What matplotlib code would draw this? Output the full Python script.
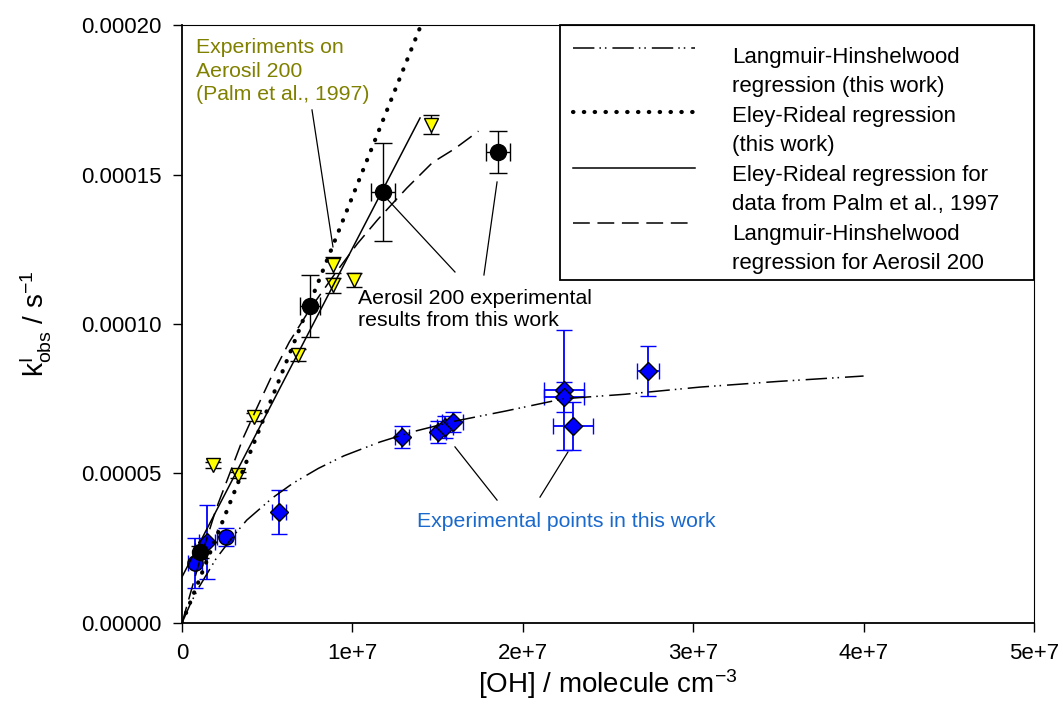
import matplotlib
matplotlib.use('Agg')
from matplotlib import pyplot as plt
from matplotlib.ticker import FormatStrFormatter

plt.rcParams['font.family'] = ['Liberation Sans', 'DejaVu Sans']
plt.rcParams['mathtext.default'] = 'regular'

# Aerosil 200, Palm et al. 1997 (yellow triangles)
palm_x = [0.182e7, 0.329e7, 0.423e7, 0.681e7, 0.886e7, 0.886e7, 1.009e7, 1.461e7]
palm_y = [0.528e-4, 0.495e-4, 0.689e-4, 0.896e-4, 1.197e-4, 1.130e-4, 1.147e-4, 1.666e-4]
palm_yerr = [0.010e-4, 0.010e-4, 0.015e-4, 0.020e-4, 0.027e-4, 0.025e-4, 0.023e-4, 0.032e-4]

# Aerosil 200, this work (black circles)
aer_x = [0.106e7, 0.751e7, 1.180e7, 1.854e7]
aer_y = [0.237e-4, 1.060e-4, 1.441e-4, 1.575e-4]
aer_xerr = [0.030e7, 0.059e7, 0.073e7, 0.070e7]
aer_yerr = [0.020e-4, 0.104e-4, 0.164e-4, 0.069e-4]

# experimental points this work (blue diamonds)
dia_x = [0.147e7, 0.569e7, 1.291e7, 1.502e7, 1.543e7, 1.590e7, 2.242e7, 2.242e7, 2.295e7, 2.735e7]
dia_y = [0.271e-4, 0.371e-4, 0.622e-4, 0.639e-4, 0.656e-4, 0.672e-4, 0.779e-4, 0.756e-4, 0.659e-4, 0.843e-4]
dia_xerr = [0.047e7, 0.041e7, 0.041e7, 0.047e7, 0.047e7, 0.062e7, 0.117e7, 0.117e7, 0.117e7, 0.065e7]
dia_yerr = [0.124e-4, 0.074e-4, 0.037e-4, 0.037e-4, 0.037e-4, 0.033e-4, 0.200e-4, 0.050e-4, 0.080e-4, 0.085e-4]

# experimental points this work (blue circles)
circ_x = [0.076e7, 0.258e7]
circ_y = [0.201e-4, 0.288e-4]
circ_xerr = [0.040e7, 0.053e7]
circ_yerr = [0.084e-4, 0.030e-4]

# regression curves
lh_x = [0, 0.05e7, 0.1e7, 0.2e7, 0.3e7, 0.38e7, 0.53e7, 0.65e7, 0.8e7, 0.95e7, 1.16e7, 1.35e7,
        1.6e7, 1.9e7, 2.24e7, 2.6e7, 3.04e7, 3.5e7, 4.0e7]
lh_y = [0, 0.065e-4, 0.12e-4, 0.215e-4, 0.29e-4, 0.344e-4, 0.418e-4, 0.467e-4, 0.517e-4, 0.559e-4,
        0.605e-4, 0.639e-4, 0.675e-4, 0.709e-4, 0.75e-4, 0.765e-4, 0.789e-4, 0.808e-4, 0.826e-4]
er_x = [0, 1.403e7]
er_y = [0, 2.0e-4]
palm_er_x = [0, 1.397e7]
palm_er_y = [0.154e-4, 1.689e-4]
lha_x = [0, 0.1e7, 0.2e7, 0.28e7, 0.36e7, 0.44e7, 0.53e7, 0.63e7, 0.75e7, 0.9e7, 1.03e7, 1.15e7,
         1.32e7, 1.47e7, 1.6e7, 1.74e7]
lha_y = [0, 0.2e-4, 0.381e-4, 0.50e-4, 0.62e-4, 0.72e-4, 0.83e-4, 0.94e-4, 1.049e-4, 1.17e-4,
         1.269e-4, 1.35e-4, 1.455e-4, 1.54e-4, 1.586e-4, 1.645e-4]

xticks = [0, 1e7, 2e7, 3e7, 4e7, 5e7]
xtick_labels = ['0', '1e+7', '2e+7', '3e+7', '4e+7', '5e+7']
yticks = [0, 0.5e-4, 1.0e-4, 1.5e-4, 2.0e-4]

legend_labels = ['Langmuir-Hinshelwood\nregression (this work)',
                 'Eley-Rideal regression\n(this work)',
                 'Eley-Rideal regression for\ndata from Palm et al., 1997',
                 'Langmuir-Hinshelwood\nregression for Aerosil 200']

LH_STYLE = (0, (14, 3.3, 1, 2.6, 1, 3.9))
DOT_STYLE = (0, (0.1, 2.5))
DASH_STYLE = (0, (11, 5))

fig = plt.figure(figsize=(10.63, 7.25), dpi=100)
ax = fig.add_axes([0.1712, 0.1407, 0.8015, 0.8248])

# data points
ax.errorbar(palm_x, palm_y, yerr=palm_yerr, fmt='v', ms=10.5, mfc='#ffff00', mec='black',
            mew=1.0, ecolor='black', elinewidth=1.0, capsize=6, capthick=1.0, zorder=3)
ax.errorbar(circ_x, circ_y, xerr=circ_xerr, yerr=circ_yerr, fmt='o', ms=11, mfc='#0000ff',
            mec='black', mew=1.0, ecolor='#0000ff', elinewidth=1.3, capsize=5.5, capthick=1.3, zorder=3)
ax.errorbar(dia_x, dia_y, xerr=dia_xerr, yerr=dia_yerr, fmt='D', ms=9.5, mfc='#0000ff',
            mec='black', mew=1.0, ecolor='#0000ff', elinewidth=1.3, capsize=5.5, capthick=1.3, zorder=3)
ax.errorbar(aer_x, aer_y, xerr=aer_xerr, yerr=aer_yerr, fmt='o', ms=11.5, mfc='black',
            mec='black', ecolor='black', elinewidth=1.0, capsize=6.5, capthick=1.0, zorder=3)

# regression lines
ax.plot(lh_x, lh_y, color='black', lw=1.1, ls=LH_STYLE, zorder=4)
ax.plot(er_x, er_y, color='black', lw=3.0, ls=DOT_STYLE, dash_capstyle='round', zorder=4)
ax.plot(palm_er_x, palm_er_y, color='black', lw=1.1, zorder=4)
ax.plot(lha_x, lha_y, color='black', lw=1.1, ls=DASH_STYLE, zorder=4)

# annotations
ax.text(0.082e7, 1.957e-4, 'Experiments on\nAerosil 200\n(Palm et al., 1997)', color='#808000',
        fontsize=15.3, va='top', ha='left', linespacing=1.32)
ax.plot([0.763e7, 0.886e7], [1.716e-4, 1.258e-4], color='black', lw=0.9, zorder=2)

ax.text(1.033e7, 1.118e-4, 'Aerosil 200 experimental\nresults from this work', color='black',
        fontsize=15.3, va='top', ha='left', linespacing=1.25)
ax.plot([1.602e7, 1.209e7], [1.174e-4, 1.415e-4], color='black', lw=0.9, zorder=2)
ax.plot([1.772e7, 1.849e7], [1.164e-4, 1.475e-4], color='black', lw=0.9, zorder=2)

ax.text(1.379e7, 0.341e-4, 'Experimental points in this work', color='#1a69cd',
        fontsize=15.3, va='center', ha='left')
ax.plot([1.849e7, 1.602e7], [0.411e-4, 0.589e-4], color='black', lw=0.9, zorder=2)
ax.plot([2.101e7, 2.265e7], [0.421e-4, 0.572e-4], color='black', lw=0.9, zorder=2)

# legend box drawn by hand so the line sits beside the first text line
ax.add_patch(plt.Rectangle((0.4437, 0.5736), 0.5563, 0.4264, transform=ax.transAxes,
                           fill=False, edgecolor='black', lw=1.3, zorder=5, clip_on=False))
handle_y = [0.9621, 0.855, 0.7609, 0.6689]
text_y = [0.9219, 0.8227, 0.7241, 0.6254]
styles = [dict(lw=1.1, ls=LH_STYLE), dict(lw=3.0, ls=DOT_STYLE, dash_capstyle='round'),
          dict(lw=1.1, ls='-'), dict(lw=1.1, ls=DASH_STYLE)]
for hy, ty, st, lab in zip(handle_y, text_y, styles, legend_labels):
    ax.plot([0.4589, 0.6021], [hy, hy], color='black', transform=ax.transAxes,
            clip_on=False, zorder=5, **st)
    ax.text(0.6455, ty, lab, transform=ax.transAxes, fontsize=16, va='center', ha='left',
            linespacing=1.5, zorder=5)

ax.set_xlim(0, 5e7)
ax.set_ylim(0, 2.0e-4)
ax.set_xticks(xticks)
ax.set_xticklabels(xtick_labels)
ax.set_yticks(yticks)
ax.yaxis.set_major_formatter(FormatStrFormatter('%.5f'))
ax.tick_params(direction='out', length=6.5, width=1.0, labelsize=16, pad=8)

for s in ['left', 'bottom']:
    ax.spines[s].set_linewidth(1.3)
for s in ['top', 'right']:
    ax.spines[s].set_linewidth(0.8)

ax.set_xlabel('[OH] / molecule cm$^{-3}$', fontsize=20, labelpad=2)
ax.set_ylabel('k$^{I}_{obs}$ / s$^{-1}$', fontsize=20, labelpad=20)

fig.savefig('out.png', dpi=100)
